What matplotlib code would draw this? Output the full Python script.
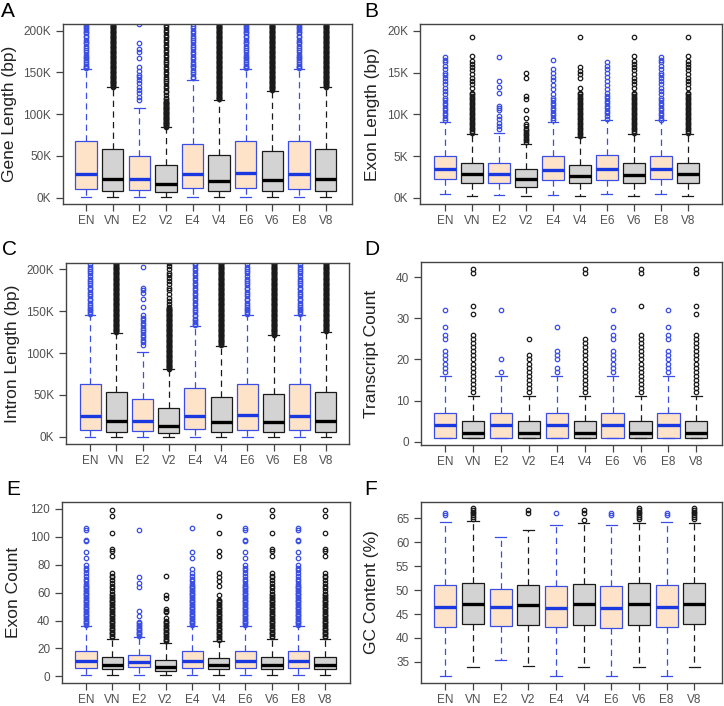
import matplotlib
matplotlib.use('Agg')
import matplotlib.pyplot as plt

plt.rcParams['font.family'] = ['Liberation Sans', 'DejaVu Sans']

labels = ['EN', 'VN', 'E2', 'V2', 'E4', 'V4', 'E6', 'V6', 'E8', 'V8']

# ---- shared dense outlier stacks ----
dense_K = [81, 82, 83, 84, 85, 86, 87, 88, 89, 90, 91, 92, 93, 94, 95, 96, 97, 98, 99, 100,
           101, 102, 103, 104, 105, 106, 107, 108, 109, 110, 111, 112, 113, 114, 115, 116, 117, 118, 119, 120,
           121, 122, 123, 124, 125, 126, 127, 128, 129, 130, 131, 132, 133, 134, 135, 136, 137, 138, 139, 140,
           141, 142, 143, 144, 145, 146, 147, 148, 149, 150, 151, 152, 153, 154, 155, 156, 157, 158, 159, 160,
           161, 162, 163, 164, 165, 166, 167, 168, 169, 170, 171, 172, 173, 174, 175, 176, 177, 178, 179, 180,
           181, 182, 183, 184, 185, 186, 187, 188, 189, 190, 191, 192, 193, 194, 195, 196, 197, 198, 199, 200,
           201, 202, 203, 204, 205, 206, 207, 208]
dense_B = [7.4, 7.6, 7.8, 8.0, 8.2, 8.4, 8.6, 8.8, 9.0, 9.2, 9.4, 9.6, 9.8, 10.0,
           10.2, 10.4, 10.6, 10.8, 11.0, 11.2, 11.4, 11.6, 11.8, 12.0, 12.2, 12.4, 12.6]
dense_E = [25, 26, 27, 28, 29, 30, 31, 32, 33, 34, 35, 36, 37, 38, 39, 40, 41, 42, 43, 44,
           45, 46, 47, 48, 49, 50, 51, 52, 53, 54, 55, 56, 57, 58, 59, 60, 61, 62, 63, 64, 65, 66]


def above(vals, lo, top=1e9):
    return [v for v in vals if lo < v <= top]


# ---- A: gene length (K bp) ----
A_q1 = [11, 8.4, 9, 6.4, 12, 8, 11.6, 8.4, 11, 8.4]
A_med = [28.7, 22, 23, 16, 28.7, 19.5, 30, 21, 29, 22]
A_q3 = [68, 58, 50, 38.6, 64, 51.4, 68, 56, 68, 58]
A_lo = [0.3, 0.3, 0.3, 0.3, 0.3, 0.3, 0.3, 0.3, 0.3, 0.3]
A_hi = [154, 132, 107, 84.5, 141, 117, 154, 128, 154, 132]
A_en = [155, 157, 158, 160, 163, 165, 167, 169, 171, 174, 177, 179, 182, 185, 187, 189,
        192, 194, 197, 199, 201, 203, 205, 207]
A_fl = [A_en,
        above(dense_K, 132),
        [117, 121, 125, 129, 132, 137, 141, 144, 147, 152, 156, 167, 175, 178, 185, 208],
        above(dense_K, 84.5, 116) + [118, 120, 123, 126, 128, 131, 134, 137, 140, 142, 145, 148,
                                     151, 154, 157, 160, 163, 165, 168, 171, 174, 177, 180, 183,
                                     186, 189, 192, 195, 198, 201, 204, 207],
        [143, 145, 148, 150, 153, 156, 158, 160, 163, 166, 169, 172, 175, 178, 180, 183,
         186, 189, 191, 194, 197, 200, 203, 206],
        above(dense_K, 117),
        A_en,
        above(dense_K, 128),
        A_en,
        above(dense_K, 132)]

# ---- B: exon length (K bp) ----
B_q1 = [2.23, 1.8, 1.83, 1.35, 2.1, 1.75, 2.2, 1.8, 2.23, 1.8]
B_med = [3.45, 2.85, 2.9, 2.27, 3.4, 2.6, 3.45, 2.8, 3.43, 2.85]
B_q3 = [5.06, 4.14, 4.22, 3.43, 4.98, 3.94, 5.14, 4.14, 5.06, 4.14]
B_lo = [0.44, 0.28, 0.4, 0.28, 0.4, 0.28, 0.44, 0.28, 0.44, 0.28]
B_hi = [9.12, 7.6, 7.8, 6.5, 9.05, 7.33, 9.3, 7.6, 9.3, 7.6]
B_en = [9.3, 9.6, 9.9, 10.2, 10.5, 10.8, 11.1, 11.4, 11.7, 12.0, 12.4, 12.8, 13.2, 13.6,
        14.0, 14.3, 14.7, 15.0, 15.4, 15.8, 16.2, 16.5, 16.9]
B_vn = above(dense_B, 7.6) + [13.1, 13.6, 14.0, 14.4, 14.8, 15.3, 15.6, 16.0, 16.4, 17.0, 19.3]
B_fl = [B_en,
        B_vn,
        [8.2, 8.6, 9.0, 9.4, 9.8, 10.5, 10.8, 11.0, 12.6, 13.3, 14.0, 16.8],
        [6.7, 6.9, 7.1, 7.3, 7.5, 7.7, 7.9, 8.1, 8.3, 8.6, 8.9, 9.6, 10.5, 11.8, 12.2, 14.4, 14.9],
        [9.3, 9.6, 9.9, 10.2, 10.5, 10.8, 11.1, 11.4, 11.7, 12.0, 12.4, 13.0, 13.5, 14.1,
         14.5, 15.0, 15.4, 16.5],
        above(dense_B, 7.33) + [13.1, 14.4, 14.8, 15.2, 15.6, 19.3],
        [9.5, 9.8, 10.1, 10.4, 10.7, 11.0, 11.3, 11.6, 11.9, 12.2, 12.5, 13.0, 13.5, 14.0,
         14.5, 15.0, 15.4, 15.8, 16.2],
        B_vn,
        B_en,
        B_vn]

# ---- C: intron length (K bp) ----
C_q1 = [8.8, 5.6, 6.8, 4.4, 9.2, 5.6, 8.8, 5.6, 8.8, 5.6]
C_med = [25, 18.7, 19, 13.5, 24.7, 17.5, 26, 18, 25, 18.5]
C_q3 = [63, 54, 45.4, 34.7, 58, 47, 63, 51.4, 63, 54]
C_lo = [0.2, 0.2, 0.2, 0.2, 0.2, 0.2, 0.2, 0.2, 0.2, 0.2]
C_hi = [145, 124, 101.6, 80.5, 132, 109, 145, 121, 146, 125.5]
C_en = [147, 149, 151, 153, 155, 157, 160, 163, 165, 168, 170, 173, 176, 178, 181, 184,
        186, 189, 192, 195, 198, 200, 203, 206]
C_fl = [C_en,
        above(dense_K, 124),
        [110, 113, 116, 119, 122, 125, 128, 130, 133, 136, 139, 142, 145, 155, 165, 172, 175, 178, 203],
        above(dense_K, 80.5, 155) + [158, 162, 166, 170, 175, 178, 182, 186, 190, 193, 196, 200, 204, 207],
        [133, 135, 137, 139, 141, 144, 146, 149, 152, 154, 157, 160, 163, 166, 169, 172,
         175, 178, 181, 184, 187, 190, 193, 196, 199, 202, 205, 207],
        above(dense_K, 109),
        C_en,
        above(dense_K, 121),
        C_en,
        above(dense_K, 125.5)]

# ---- D: transcript count ----
D_q1 = [1, 1, 1, 1, 1, 1, 1, 1, 1, 1]
D_med = [4, 2, 4, 2, 4, 2, 4, 2, 4, 2]
D_q3 = [7, 5, 7, 5, 7, 5, 7, 5, 7, 5]
D_lo = [1, 1, 1, 1, 1, 1, 1, 1, 1, 1]
D_hi = [16, 11, 16, 11, 16, 11, 16, 11, 16, 11]
D_en = [17, 18, 19, 20, 21, 22, 25, 26, 28, 32]
D_vn = [12, 13, 14, 15, 16, 17, 18, 19, 20, 21, 22, 23, 24, 25, 26, 31, 33, 41, 42]
D_fl = [D_en,
        D_vn,
        [17, 20, 32],
        [12, 13, 14, 15, 16, 17, 18, 19, 20, 21, 25],
        [17, 18, 20, 21, 22, 28],
        [12, 13, 14, 15, 16, 17, 18, 19, 20, 21, 22, 23, 24, 25, 41, 42],
        D_en,
        [12, 13, 14, 15, 16, 17, 18, 19, 20, 21, 22, 23, 24, 25, 26, 33, 41, 42],
        D_en,
        D_vn]

# ---- E: exon count ----
E_q1 = [6, 5, 7, 4, 6, 5, 6, 5, 6, 5]
E_med = [11, 8, 10, 7, 11, 8, 11, 8, 11, 8]
E_q3 = [18, 14, 15, 12, 18, 13, 18, 14, 18, 14]
E_lo = [1, 1, 1, 1, 1, 1, 1, 1, 1, 1]
E_hi = [36, 27, 28, 24, 36, 25, 36, 27, 36, 27]
E_en = above(dense_E, 36) + [68, 70, 72, 74, 76, 78, 80, 85, 89, 97, 98, 105, 106]
E_vn = above(dense_E, 27, 59) + [61, 63, 65, 67, 69, 71, 72, 74, 86, 90, 91, 103, 115, 119]
E_fl = [E_en,
        E_vn,
        [29, 30, 31, 32, 33, 34, 35, 36, 37, 38, 39, 43, 47, 64, 67, 71, 105],
        above(dense_E, 24, 40) + [42, 46, 47, 48, 56, 58, 72],
        above(dense_E, 36) + [68, 70, 72, 74, 77, 85, 89, 106],
        above(dense_E, 25, 55) + [58, 65, 68, 71, 74, 86, 90, 103, 115],
        E_en,
        E_vn,
        E_en,
        E_vn]

# ---- F: GC content (%) ----
F_q1 = [42.2, 42.9, 42.45, 42.8, 42.2, 42.7, 42.1, 42.8, 42.2, 42.9]
F_med = [46.55, 47.2, 46.5, 46.9, 46.3, 47.0, 46.3, 47.0, 46.55, 47.1]
F_q3 = [51.1, 51.4, 50.3, 51.0, 50.8, 51.2, 50.9, 51.4, 51.1, 51.4]
F_lo = [32.15, 33.95, 35.3, 34.2, 32.15, 33.95, 32.15, 33.95, 32.15, 33.95]
F_hi = [64.2, 64.4, 61.0, 62.6, 63.5, 64.1, 63.5, 64.1, 64.2, 64.1]
F_en = [65.6, 66.1]
F_vn = [64.8, 65.2, 65.6, 66.0, 66.4, 66.8, 67.1]
F_fl = [F_en, F_vn, [], [66.2, 66.8], [66.2], [64.6, 66.2, 66.8], F_en, F_vn, F_en, F_vn]

BLUE = '#3a4ee6'
MED_BLUE = '#1a38e0'
PEACH = '#fee3c8'
GRAY = '#d3d3d3'
DARK = '#1a1a1a'

W, H = 724, 706
fig = plt.figure(figsize=(W / 100, H / 100), dpi=100)


def panel(box, xlim, ylim, yticks, yticklabels, ylabel, ylab_x, letter, letter_xy,
          q1, med, q3, lo, hi, fl):
    l, t, r, b = box
    ax = fig.add_axes([l / W, 1 - b / H, (r - l) / W, (b - t) / H])
    for i in range(10):
        e = (i % 2 == 0)
        edge = BLUE if e else DARK
        st = dict(q1=q1[i], med=med[i], q3=q3[i], whislo=lo[i], whishi=hi[i], fliers=fl[i])
        ax.bxp([st], positions=[i + 1], widths=0.8, capwidths=0.4, patch_artist=True,
               boxprops=dict(facecolor=PEACH if e else GRAY, edgecolor=edge, linewidth=0.9),
               medianprops=dict(color=MED_BLUE if e else 'black', linewidth=2.4,
                                solid_capstyle='butt'),
               whiskerprops=dict(color=edge, linewidth=0.9, linestyle=(0, (5, 3.5))),
               capprops=dict(color=edge, linewidth=0.9),
               flierprops=dict(marker='o', markerfacecolor='none', markeredgecolor=edge,
                               markersize=3.2, markeredgewidth=0.9))
    ax.set_xlim(*xlim)
    ax.set_ylim(*ylim)
    ax.set_xticks(range(1, 11))
    ax.set_xticklabels(labels)
    ax.set_yticks(yticks)
    ax.set_yticklabels(yticklabels)
    ax.tick_params(direction='out', length=5, width=0.9, color='#444',
                   labelsize=8.5, labelcolor='#505050')
    ax.tick_params(axis='x', pad=3)
    for s in ax.spines.values():
        s.set_color('#444')
        s.set_linewidth(1.0)
    fig.text(ylab_x / W, 1 - (t + b) / 2 / H, ylabel, rotation=90, ha='center', va='center',
             fontsize=12.5, color='#222')
    fig.text(letter_xy[0] / W, 1 - letter_xy[1] / H, letter, ha='left', va='top',
             fontsize=15, color='black')
    return ax


kt = [0, 50, 100, 150, 200]
kl = ['0K', '50K', '100K', '150K', '200K']

panel((63, 24, 352, 204), (0.135, 10.99), (-7.5, 208), kt, kl, 'Gene Length (bp)', 10,
      'A', (1, 2), A_q1, A_med, A_q3, A_lo, A_hi, A_fl)
panel((420, 24, 722, 204), (0.07, 11.27), (-0.72, 20.8), [0, 5, 10, 15, 20],
      ['0K', '5K', '10K', '15K', '20K'], 'Exon Length (bp)', 373,
      'B', (364, 2), B_q1, B_med, B_q3, B_lo, B_hi, B_fl)
panel((66, 263, 349, 444), (0.08, 10.88), (-8.5, 207.5), kt, kl, 'Intron Length (bp)', 13,
      'C', (2, 240), C_q1, C_med, C_q3, C_lo, C_hi, C_fl)
panel((421, 262, 722, 445), (0.13, 10.92), (-0.8, 43.7), [0, 10, 20, 30, 40],
      ['0', '10', '20', '30', '40'], 'Transcript Count', 371,
      'D', (364, 240), D_q1, D_med, D_q3, D_lo, D_hi, D_fl)
panel((62, 502, 350, 683), (0.10, 10.94), (-4.8, 125), [0, 20, 40, 60, 80, 100, 120],
      ['0', '20', '40', '60', '80', '100', '120'], 'Exon Count', 14,
      'E', (6, 480), E_q1, E_med, E_q3, E_lo, E_hi, E_fl)
panel((421, 502, 722, 683), (0.12, 11.0), (30.6, 68.4), [35, 40, 45, 50, 55, 60, 65],
      ['35', '40', '45', '50', '55', '60', '65'], 'GC Content (%)', 371,
      'F', (364, 480), F_q1, F_med, F_q3, F_lo, F_hi, F_fl)

fig.savefig('out.png', dpi=100)
